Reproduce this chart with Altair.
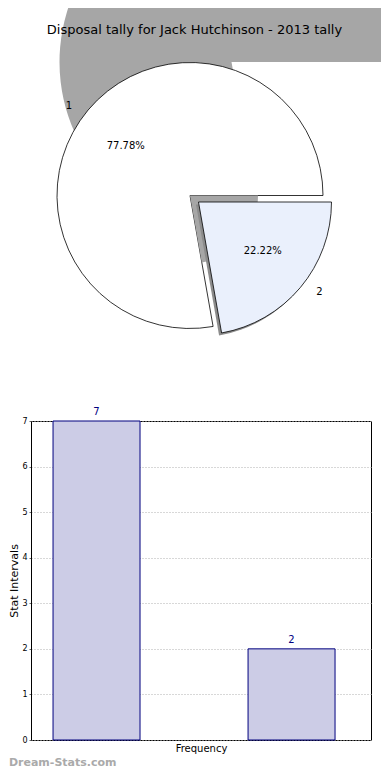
import math
import altair as alt
import pandas as pd

# ---- data ----
categories = ["1", "2"]
values = [7, 2]
chart_title = "Disposal tally for Jack Hutchinson - 2013 tally"
y_ticks = [0, 1, 2, 3, 4, 5, 6, 7]
bar_x_title = "Frequency"
bar_y_title = "Stat Intervals"
watermark = "Dream-Stats.com"

df = pd.DataFrame({"category": categories, "value": values})
total = sum(values)
FONT = "DejaVu Sans"

theta_scale = alt.Scale(domain=[0, total], range=[math.pi / 2, math.pi / 2 + 2 * math.pi])

base = (
    alt.Chart(df)
    .transform_joinaggregate(total="sum(value)")
    .transform_window(cum="sum(value)", sort=[alt.SortField("category", order="descending")])
    .transform_calculate(
        start="datum.cum - datum.value",
        mid="datum.cum - datum.value / 2",
        pct="format(datum.value / datum.total * 100, '.2f') + '%'",
    )
)
s1 = base.transform_filter("datum.category == '1'")
s2 = base.transform_filter("datum.category == '2'")

arc_enc = dict(theta=alt.Theta("start:Q", scale=theta_scale), theta2="cum:Q")
mid_enc = dict(theta=alt.Theta("mid:Q", scale=theta_scale))

TOP_W, TOP_H = 350, 380
R = 133
CX, CY = -16, -2.5           # pie centre offset from view centre
EX, EY = CX + 8.5, CY + 6.5  # exploded slice centre

shadow1 = s1.mark_arc(outerRadius=172, fill="#a6a6a6", clip=True, xOffset=25.5, yOffset=-136).encode(**arc_enc)
title_df = pd.DataFrame({"t": [chart_title]})
title_mark = alt.Chart(title_df).mark_text(fontSize=13, font=FONT, color="black").encode(
    text="t:N", x=alt.value(163.5), y=alt.value(22)
)
slice1 = s1.mark_arc(outerRadius=R, fill="white", stroke="black", strokeWidth=0.8,
                     xOffset=CX, yOffset=CY).encode(**arc_enc)
shadow2a = s2.mark_arc(outerRadius=68, fill="#a6a6a6", xOffset=CX, yOffset=CY).encode(**arc_enc)
shadow2b = s2.mark_arc(outerRadius=R, fill="#8c8c8c", xOffset=EX - 2.5, yOffset=EY + 2.5).encode(**arc_enc)
slice2 = s2.mark_arc(outerRadius=R, fill="#eaf0fc", stroke="black", strokeWidth=0.8,
                     xOffset=EX, yOffset=EY).encode(**arc_enc)

lab1 = s1.mark_text(radius=146, align="right", fontSize=10, font=FONT, color="black",
                    xOffset=CX, yOffset=CY, dx=-6, dy=4).encode(text="category:N", **mid_enc)
pct1 = s1.mark_text(radius=80, fontSize=10, font=FONT, color="black",
                    xOffset=CX, yOffset=CY, dx=-3, dy=2).encode(text="pct:N", **mid_enc)
lab2 = s2.mark_text(radius=146, align="left", fontSize=10, font=FONT, color="black",
                    xOffset=EX, yOffset=EY, dx=6, dy=-4).encode(text="category:N", **mid_enc)
pct2 = s2.mark_text(radius=80, fontSize=10, font=FONT, color="black",
                    xOffset=EX, yOffset=EY, dx=3, dy=-2).encode(text="pct:N", **mid_enc)

top = alt.layer(shadow1, title_mark, slice1, shadow2a, shadow2b, slice2, lab1, pct1, lab2, pct2).properties(
    width=TOP_W, height=TOP_H, view=alt.ViewBackground(strokeWidth=0)
)

# ---- bar chart ----
bar_base = alt.Chart(df).encode(
    x=alt.X(
        "category:N",
        scale=alt.Scale(paddingInner=0.554, paddingOuter=0.1487, align=0.38),
        axis=alt.Axis(title=bar_x_title, labels=False, ticks=False, domain=False, grid=False,
                      titleFontSize=10, titleFont=FONT, titleFontWeight="normal",
                      titlePadding=3, titleColor="black"),
    ),
    y=alt.Y(
        "value:Q",
        scale=alt.Scale(domain=[0, 7]),
        axis=alt.Axis(values=y_ticks, grid=True, gridColor="#b0b0b0", gridDash=[1, 2], gridWidth=1,
                      tickSize=2, tickColor="#666666", labelFontSize=8, labelFont=FONT, labelColor="black",
                      labelPadding=2, title=bar_y_title, titleFontSize=11, titleFont=FONT,
                      titleFontWeight="normal", titleColor="black", titlePadding=2,
                      domainColor="black"),
    ),
)
bars = bar_base.mark_bar(fill="#ccccE6", stroke="#00007f", strokeWidth=1)
bar_text = bar_base.mark_text(dy=-4, baseline="bottom", color="#00007f", fontSize=10, font=FONT).encode(
    text="value:Q"
)
bottom = alt.layer(bars, bar_text).properties(
    width=340, height=319,
    view=alt.ViewBackground(stroke="black", strokeWidth=1),
    title=alt.TitleParams(watermark, orient="bottom", anchor="start", frame="bounds", fontSize=11,
                          fontWeight="bold", color="#aaaaaa", font=FONT, offset=4),
)

chart = alt.vconcat(top, bottom, spacing=18).properties(padding=0)
chart.save("out.html", embed_options={"renderer": "svg", "actions": False})
